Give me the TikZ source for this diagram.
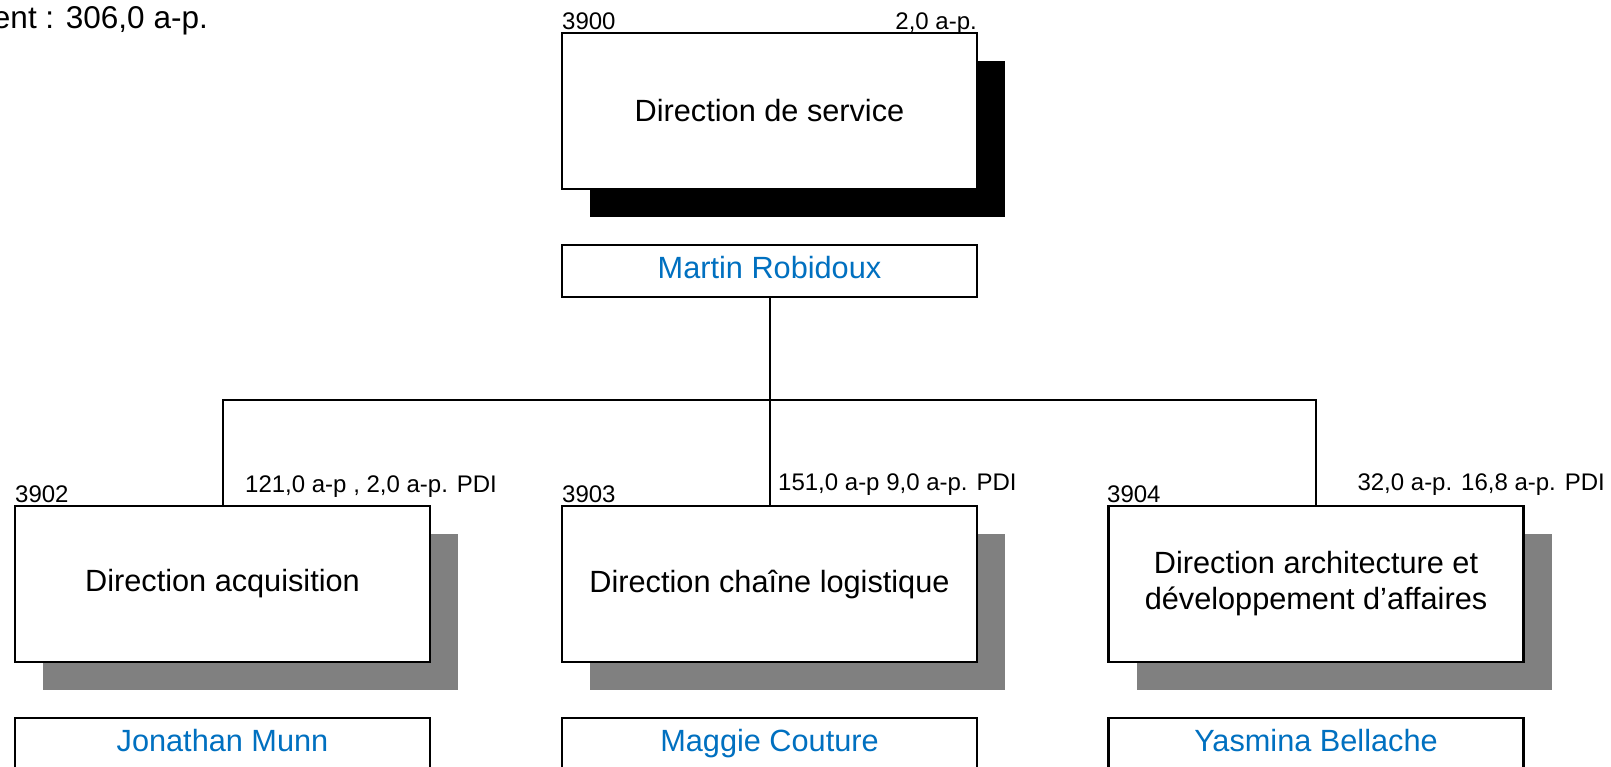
\documentclass[tikz,border=0pt]{standalone}
\usepackage{fontspec}
\setmainfont{Liberation Sans}
\usetikzlibrary{shadows}
\definecolor{nameblue}{RGB}{0,112,192}

\begin{document}
\begin{tikzpicture}[%
    x=1pt, y=-1pt,
    unit/.style={draw, line width=2.5pt, fill=white, align=center,
        minimum width=415pt, minimum height=156pt,
        font=\fontsize{30.7}{36}\selectfont},
    topshadow/.style={drop shadow={shadow xshift=28pt, shadow yshift=-28pt, fill=black, opacity=1}},
    subshadow/.style={drop shadow={shadow xshift=28pt, shadow yshift=-28pt, fill=black!50, opacity=1}},
    person/.style={draw, line width=2.5pt, fill=white, text=nameblue,
        minimum width=415pt, minimum height=52pt, text height=22pt, text depth=7pt,
        font=\fontsize{30.7}{36}\selectfont},
    tag/.style={inner sep=0pt, font=\fontsize{24}{28}\selectfont},
    link/.style={line width=2pt}]
  \useasboundingbox (0,0) rectangle (1611,766);
  \node[inner sep=0pt, anchor=base east, font=\fontsize{31.5}{36}\selectfont] (total) at (208,28) {ent : 306,0 a-p.};
  \node[unit, topshadow] (service) at (769.5,111) {Direction de service};
  \node[person] (robidoux) at (769.5,271) {Martin Robidoux};
  \node[unit, subshadow] (acquisition) at (222.5,584) {Direction acquisition};
  \node[unit, subshadow] (chaine) at (769.5,584) {Direction chaîne logistique};
  \node[unit, subshadow] (architecture) at (1316,584) {Direction architecture et\\développement d’affaires};
  \node[person] (munn) at (222.5,744) {Jonathan Munn};
  \node[person] (couture) at (769.5,744) {Maggie Couture};
  \node[person] (bellache) at (1316,744) {Yasmina Bellache};
  \node[tag, anchor=base west] (code3900) at (562,29) {3900};
  \node[tag, anchor=base east] (ap3900) at (977,29) {2,0 a-p.};
  \node[tag, anchor=base west] (code3902) at (15,502) {3902};
  \node[tag, anchor=base west] (ap3902) at (245,492) {121,0 a-p , 2,0 a-p. PDI};
  \node[tag, anchor=base west] (code3903) at (562,502) {3903};
  \node[tag, anchor=base west] (ap3903) at (778,490) {151,0 a-p 9,0 a-p. PDI};
  \node[tag, anchor=base west] (code3904) at (1107,502) {3904};
  \node[tag, anchor=base east] (ap3904) at (1605,490) {32,0 a-p. 16,8 a-p. PDI};
  \coordinate (fork) at (769.5,400);
  \draw[link] (robidoux.south) -- (chaine.north);
  \draw[link] (acquisition.north) |- (fork) -| (architecture.north);
\end{tikzpicture}
\end{document}
